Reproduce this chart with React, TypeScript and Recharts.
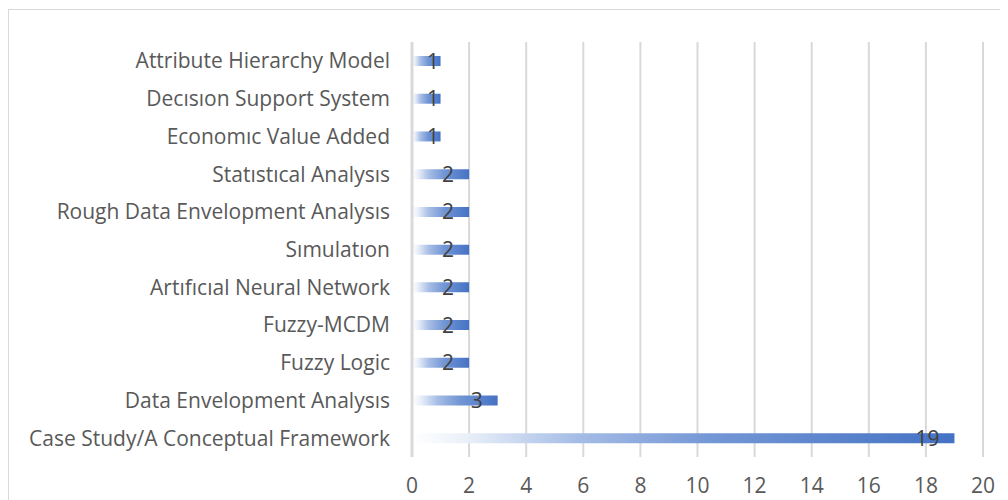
import React from "react";
import { BarChart, Bar, XAxis, YAxis, CartesianGrid, LabelList } from "recharts";

const categories = [
  "Attribute Hierarchy Model",
  "Decısıon Support System",
  "Economıc Value Added",
  "Statıstıcal Analysıs",
  "Rough Data Envelopment Analysıs",
  "Sımulatıon",
  "Artıfıcıal Neural Network",
  "Fuzzy-MCDM",
  "Fuzzy Logic ",
  "Data Envelopment Analysıs",
  "Case Study/A Conceptual Framework",
];

const counts = [1, 1, 1, 2, 2, 2, 2, 2, 2, 3, 19];

const xTicks = [0, 2, 4, 6, 8, 10, 12, 14, 16, 18, 20];

const data = categories.map((name, i) => ({ name, value: counts[i] }));

const FONT = "'Open Sans', Lato, sans-serif";

function ValueLabel(props: any) {
  const { x, y, width, height, value } = props;
  const right = Math.max(x + width - 15, x + 27);
  return (
    <text
      x={right}
      y={y + height / 2}
      dy="0.36em"
      textAnchor="end"
      fill="#404040"
      fontSize={21}
      fontFamily={FONT}
    >
      {value}
    </text>
  );
}

export default function App() {
  return (
    <div style={{ width: 1000, height: 492, overflow: "hidden", position: "relative" }}>
      <div
        style={{
          position: "absolute",
          left: 0,
          top: 1,
          width: 1010,
          height: 510,
          border: "1px solid #d9d9d9",
          boxSizing: "border-box",
        }}
      />
      <div style={{ position: "absolute", left: 0, top: 0 }}>
        <BarChart
          width={1000}
          height={492}
          data={data}
          layout="vertical"
          margin={{ top: 34, right: 25, left: 0, bottom: 0 }}
        >
          <defs>
            <linearGradient id="barFill" x1="0" y1="0" x2="1" y2="0">
              <stop offset="0" stopColor="#ffffff" />
              <stop offset="0.1" stopColor="#eaf0f9" />
              <stop offset="0.3" stopColor="#a6bde6" />
              <stop offset="0.55" stopColor="#7497d5" />
              <stop offset="1" stopColor="#4472c4" />
            </linearGradient>
          </defs>
          <CartesianGrid horizontal={false} stroke="#d9d9d9" strokeWidth={2} />
          <XAxis
            type="number"
            domain={[0, 20]}
            ticks={xTicks}
            axisLine={false}
            tickLine={false}
            tickSize={0}
            tickMargin={21}
            height={43}
            interval={0}
            tick={{ fontSize: 21, fill: "#595959", fontFamily: FONT }}
          />
          <YAxis
            type="category"
            dataKey="name"
            width={404}
            axisLine={{ stroke: "#d9d9d9", strokeWidth: 3 }}
            tickLine={false}
            tickSize={0}
            tickMargin={22}
            interval={0}
            tick={{ fontSize: 21, fill: "#595959", fontFamily: FONT }}
          />
          <Bar dataKey="value" fill="url(#barFill)" barSize={10} isAnimationActive={false}>
            <LabelList dataKey="value" content={<ValueLabel />} />
          </Bar>
        </BarChart>
      </div>
    </div>
  );
}
